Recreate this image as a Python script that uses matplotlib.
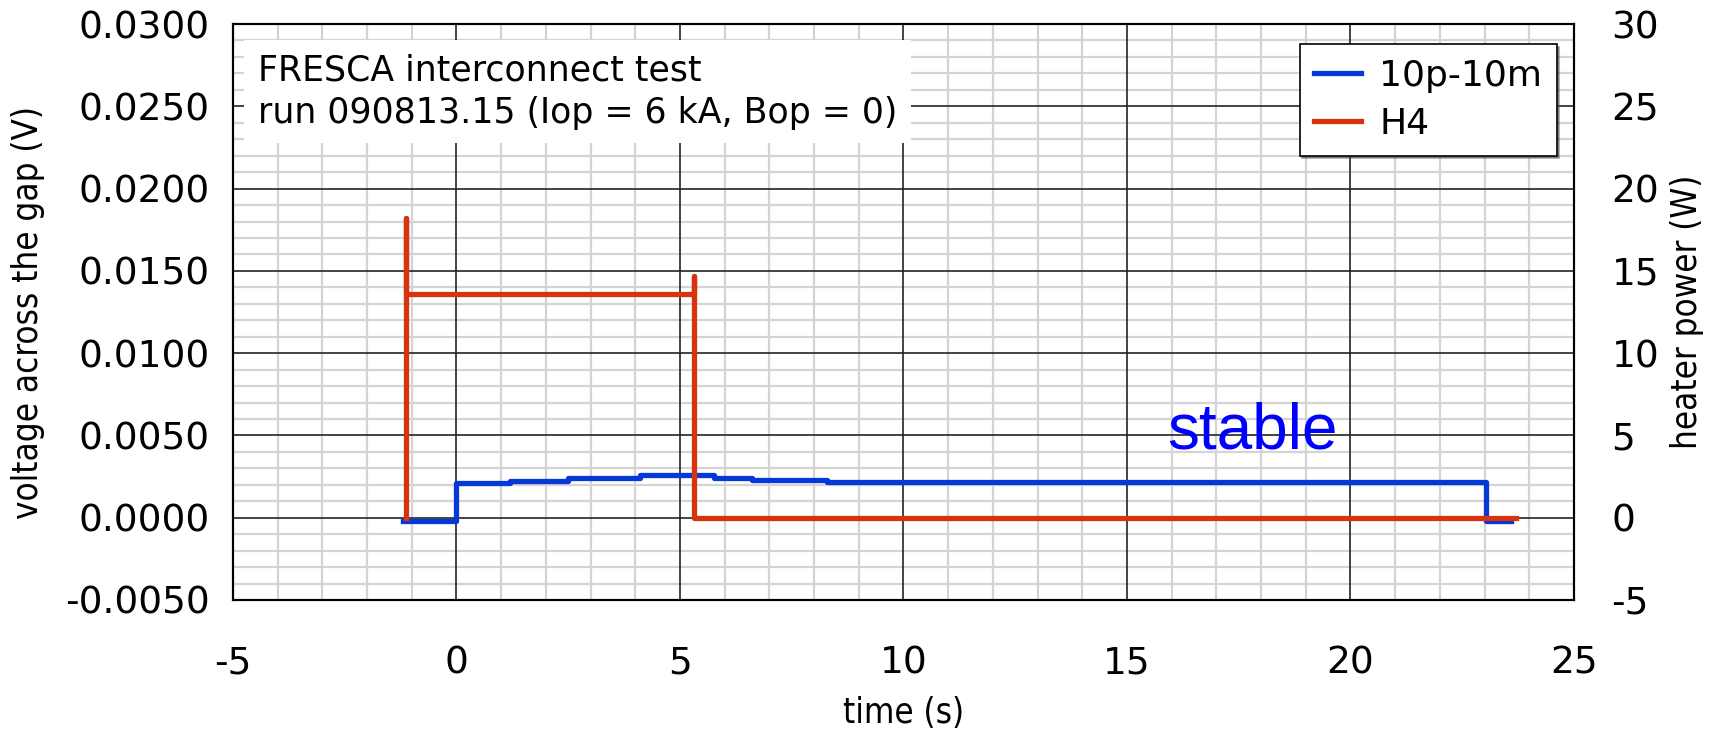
import matplotlib
matplotlib.use("Agg")
import matplotlib.pyplot as plt
from matplotlib.ticker import MultipleLocator

plt.rcParams["axes.unicode_minus"] = False

# voltage across the gap, 10p-10m (V) - step data
t_volt = [-1.2, 0.0, 1.2, 2.5, 4.1, 5.75, 6.6, 8.3, 23.04, 23.6]
volt = [-0.0002, 0.00212, 0.00226, 0.00244, 0.0026, 0.0024, 0.00227, 0.00217, -0.00022, -0.00022]

# heater power H4 (W)
t_heat = [-1.13, -1.13, -1.13, 5.32, 5.32, 5.32, 23.7]
heat = [0.0, 18.2, 13.6, 13.6, 14.7, 0.0, 0.0]

xticks = [-5, 0, 5, 10, 15, 20, 25]
yticks_v = [-0.005, 0.0, 0.005, 0.01, 0.015, 0.02, 0.025, 0.03]
yticks_w = [-5, 0, 5, 10, 15, 20, 25, 30]

blue = "#0538d8"
red = "#d8330f"
TICK_FS = 27
LABEL_FS = 25

fig = plt.figure(figsize=(17.17, 7.35), dpi=100)
ax = fig.add_axes([0.1357, 0.1837, 0.9167 - 0.1357, 0.9673 - 0.1837])
ax2 = ax.twinx()

# light minor grid, solid dark major lines drawn on top of it
ax.set_axisbelow(True)
ax.xaxis.set_minor_locator(MultipleLocator(1))
ax.yaxis.set_minor_locator(MultipleLocator(0.001))
ax.grid(which="minor", color="#d4d4d4", lw=1.6)
for x in xticks:
    ax.axvline(x, color="#222222", lw=1.2, zorder=0.8)
for y in yticks_v:
    ax.axhline(y, color="#222222", lw=1.2, zorder=0.8)

ax.plot(t_volt, volt, drawstyle="steps-post", color=blue, lw=3.8, label="10p-10m")
ax2.plot(t_heat, heat, color=red, lw=3.8, label="H4")

ax.set_xlim(-5, 25)
ax.set_ylim(-0.005, 0.03)
ax2.set_ylim(-5, 30)
ax.set_xticks(xticks)
ax.set_yticks(yticks_v)
ax.set_yticklabels(["%.4f" % y for y in yticks_v])
ax2.set_yticks(yticks_w)

ax.tick_params(which="both", length=0)
ax.tick_params(axis="y", labelsize=TICK_FS, pad=17)
ax.tick_params(axis="x", labelsize=TICK_FS, pad=33)
ax2.tick_params(which="both", length=0, labelsize=TICK_FS, pad=27)

for a in (ax, ax2):
    for s in a.spines.values():
        s.set_color("black")
        s.set_linewidth(1.5)

lab = dict(fontsize=LABEL_FS, family="DejaVu Sans", fontstretch="condensed")
ax.set_xlabel("time (s)", labelpad=10, **lab)
ax.set_ylabel("voltage across the gap (V)", labelpad=14, **lab)
ax2.set_ylabel("heater power (W)", labelpad=8, **lab)

ax.text(-4.45, 0.0259, "FRESCA interconnect test\nrun 090813.15 (Iop = 6 kA, Bop = 0)",
        fontsize=25, va="center", ha="left", linespacing=1.3,
        bbox=dict(facecolor="white", edgecolor="none", pad=10), zorder=3)

ax.text(15.9, 0.0042, "stable", fontsize=46, color="#0000ff",
        family=["Liberation Sans", "DejaVu Sans"], va="baseline", ha="left")

h1, l1 = ax.get_legend_handles_labels()
h2, l2 = ax2.get_legend_handles_labels()
leg = ax2.legend(h1 + h2, l1 + l2, loc="upper right", fontsize=26,
                 bbox_to_anchor=(0.987, 0.965), borderaxespad=0,
                 fancybox=False, shadow=True, framealpha=1, edgecolor="black",
                 handlelength=1.3, handletextpad=0.5,
                 borderpad=0.4, labelspacing=0.4)
leg.get_frame().set_linewidth(1.2)

fig.savefig("out.png", dpi=100)
